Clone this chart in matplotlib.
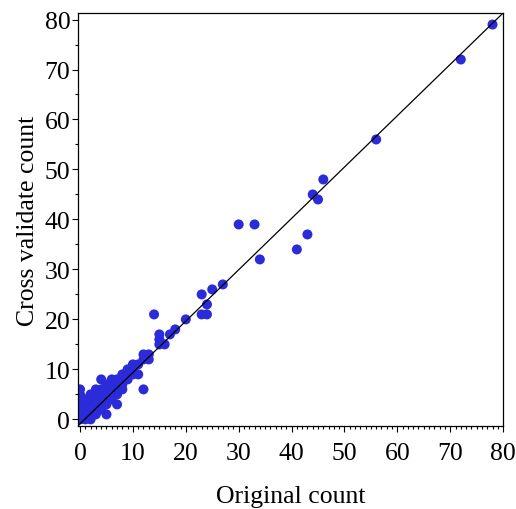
import matplotlib
matplotlib.use("Agg")
import matplotlib.pyplot as plt
import matplotlib.ticker as mticker

plt.rcParams["font.family"] = ["Liberation Serif", "DejaVu Serif"]

# Original count vs cross validated count
original = [
    0, 0, 0, 0, 0, 0, 0,
    1, 1, 1, 1, 1,
    2, 2, 2, 2, 2, 2,
    3, 3, 3, 3, 3, 3,
    4, 4, 4, 4, 4, 4,
    5, 5, 5, 5, 5, 5,
    6, 6, 6, 6, 6,
    7, 7, 7, 7, 7,
    8, 8, 8, 8, 9, 9, 9,
    10, 10, 10, 11, 11,
    12, 12, 12, 13, 13,
    14, 15, 15, 15, 16, 17, 18, 20,
    23, 24, 24, 23, 25, 27,
    30, 33, 34, 41, 43, 44, 45, 46,
    56, 72, 78,
]
cross_valid = [
    0, 1, 2, 3, 4, 5, 6,
    0, 1, 2, 3, 4,
    0, 1, 2, 3, 4, 5,
    1, 2, 3, 4, 5, 6,
    2, 3, 4, 5, 6, 8,
    1, 3, 4, 5, 6, 7,
    4, 5, 6, 7, 8,
    3, 5, 6, 7, 8,
    6, 7, 8, 9, 8, 9, 10,
    9, 10, 11, 9, 11,
    6, 12, 13, 12, 13,
    21, 15, 16, 17, 15, 17, 18, 20,
    21, 21, 23, 25, 26, 27,
    39, 39, 32, 34, 37, 45, 44, 48,
    56, 72, 79,
]

fig = plt.figure(figsize=(5.16, 5.10), dpi=100)
ax = fig.add_axes([0.151, 0.163, 0.824, 0.8095])

ax.scatter(original, cross_valid, s=52, color="#2b2bd9", edgecolors="none", zorder=2)
ax.plot([0, 1], [0, 1], transform=ax.transAxes, color="black", linewidth=0.9, zorder=3)

ax.set_xlim(-0.4, 80)
ax.set_ylim(-1.3, 81.3)

ax.xaxis.set_major_locator(mticker.MultipleLocator(10))
ax.xaxis.set_minor_locator(mticker.MultipleLocator(1))
ax.yaxis.set_major_locator(mticker.MultipleLocator(10))
ax.yaxis.set_minor_locator(mticker.MultipleLocator(5))

ax.tick_params(axis="both", which="major", direction="out", length=4.5, width=0.8, labelsize=18.5)
ax.tick_params(axis="both", which="minor", direction="out", length=2.2, width=0.8)
ax.tick_params(axis="x", which="major", pad=7)
ax.tick_params(axis="y", which="major", pad=1)

for sp in ax.spines.values():
    sp.set_linewidth(0.9)

ax.set_xlabel("Original count", fontsize=18.5, labelpad=15)
ax.set_ylabel("Cross validate count", fontsize=18.5, labelpad=4)

fig.savefig("out.png", dpi=100)
